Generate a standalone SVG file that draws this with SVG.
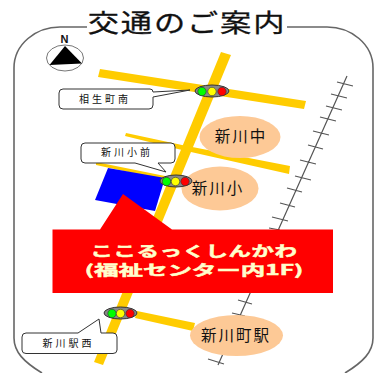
<svg xmlns="http://www.w3.org/2000/svg" width="380" height="373" viewBox="0 0 380 373">
<style>
text{font-family:"Noto Sans CJK JP","Noto Sans",sans-serif;fill:#111;text-anchor:middle}
.road{fill:#ffcc00}
.tie{stroke:#555;stroke-width:1.2;fill:none}
.place{fill:#fdc996}
.call{fill:#fff;stroke:#333;stroke-width:1}
.callt{font-size:10px;letter-spacing:3px}
.pl{font-size:15.500px;letter-spacing:2px}
.sigb{fill:#888;stroke:#333;stroke-width:1}
.lamp{stroke:#333;stroke-width:.6}
.big{fill:#ffffcc;font-weight:700;stroke:#ffffcc;stroke-width:.5}
</style>
<g id="frame"><path d="M42 373C24 362 14 352 14 338V68C14 44 36 27 60 27H87M287 27H327C351 27 373 44 373 68V338C373 352 363 362 345 373" fill="none" stroke="#666" stroke-width="1.600"/></g>
<g id="title"><text transform="translate(187 32) scale(1.25 1)" font-size="25" style="letter-spacing:1.500px" stroke="#111" stroke-width=".3">交通のご案内</text></g>
<g id="compass"><text x="64.500" y="43" font-size="11" font-weight="700" style="font-family:'Liberation Sans',sans-serif">N</text><ellipse cx="65" cy="58" rx="18.500" ry="13" fill="#fff" stroke="#777" stroke-width="1"/><path d="M65 46L49.500 65L82 63.500Z" fill="#000"/></g>
<g id="roads">
<path class="road" d="M221 52L231 55L103 365L94 362Z"/>
<path class="road" d="M100 69L306 101L304 109L98 77Z"/>
<path class="road" d="M126 133L182 145L290 166L289 174L182 150L125 136Z"/>
<path class="road" d="M96 162L165 176L165 180L96 165Z"/>
<path class="road" d="M137 311L195 323L193 331L135 318Z"/>
</g>
<g id="railway">
<path class="tie" d="M347 76L218 365M337 82L353 86M331 94L347 98M326 106L342 110M320 117L336 121M313 131L329 135M308 145L323 149M300 160L316 164M295 176L311 180M287 188L302 192M280 203L295 207M272 217L288 221M269 228L280 230M238 300L252 304M232 313L245 316M208 359L224 364"/>
</g>
<g id="facility-block"><path d="M108 168L165 178L155 211L95 200Z" fill="#0000ff"/></g>
<g id="station-naka"><ellipse class="place" cx="240" cy="137" rx="40.500" ry="21"/><text class="pl" x="241" y="141.500">新川中</text></g>
<g id="station-sho"><ellipse class="place" cx="220" cy="188.500" rx="38.500" ry="22"/><text class="pl" x="218" y="193.500">新川小</text></g>
<g id="station-eki"><ellipse class="place" cx="236.500" cy="335.500" rx="46.500" ry="20.500"/><text class="pl" x="236" y="340.500">新川町駅</text></g>
<g id="label-red"><path d="M52.500 229.500H100L123 194L172 229.500H333V293H52.500Z" fill="#ff0000"/><text class="big" transform="translate(194 256) scale(1.6 1)" font-size="14" style="letter-spacing:.4px">ここるっくしんかわ</text><text class="big" transform="translate(194 275) scale(1.75 1)" font-size="14">(福祉センター内1F)</text></g>
<g id="signal-top"><ellipse class="sigb" cx="212" cy="91" rx="17" ry="6"/><circle class="lamp" cx="202" cy="91.500" r="4.200" fill="#00ff00"/><circle class="lamp" cx="212" cy="91.500" r="4.200" fill="#ffff00"/><circle class="lamp" cx="222" cy="91.500" r="4.200" fill="#ff0000"/></g>
<g id="signal-mid"><ellipse class="sigb" cx="176" cy="181" rx="16" ry="6"/><circle class="lamp" cx="166.500" cy="181.500" r="4.200" fill="#00ff00"/><circle class="lamp" cx="175.500" cy="181.500" r="4.200" fill="#ffff00"/><circle class="lamp" cx="185" cy="181.500" r="4.200" fill="#ff0000"/></g>
<g id="signal-bottom"><ellipse class="sigb" cx="120.500" cy="313" rx="16.500" ry="6"/><circle class="lamp" cx="112" cy="313.500" r="4.200" fill="#00ff00"/><circle class="lamp" cx="120.500" cy="313.500" r="4.200" fill="#ffff00"/><circle class="lamp" cx="130" cy="313.500" r="4.200" fill="#ff0000"/></g>
<g id="callout-aioi"><path class="call" d="M63 89H150Q153 89 153 92L190 90L153 97V105Q153 109 149 109H63Q59 109 59 105V93Q59 89 63 89Z"/><text class="callt" x="105" y="102.500">相生町南</text></g>
<g id="callout-shogaku"><path class="call" d="M85 143H171Q175 143 175 147V159Q175 163 171 163H158L166 172L135 163H85Q81 163 81 159V147Q81 143 85 143Z"/><text class="callt" x="127" y="156">新川小前</text></g>
<g id="callout-ekinishi"><path class="call" d="M26 333H78L99 319L101 333H113Q117 333 117 337V350Q117 353.500 113 353.500H26Q22 353.500 22 350V337Q22 333 26 333Z"/><text class="callt" x="68.500" y="346.500">新川駅西</text></g>
</svg>
